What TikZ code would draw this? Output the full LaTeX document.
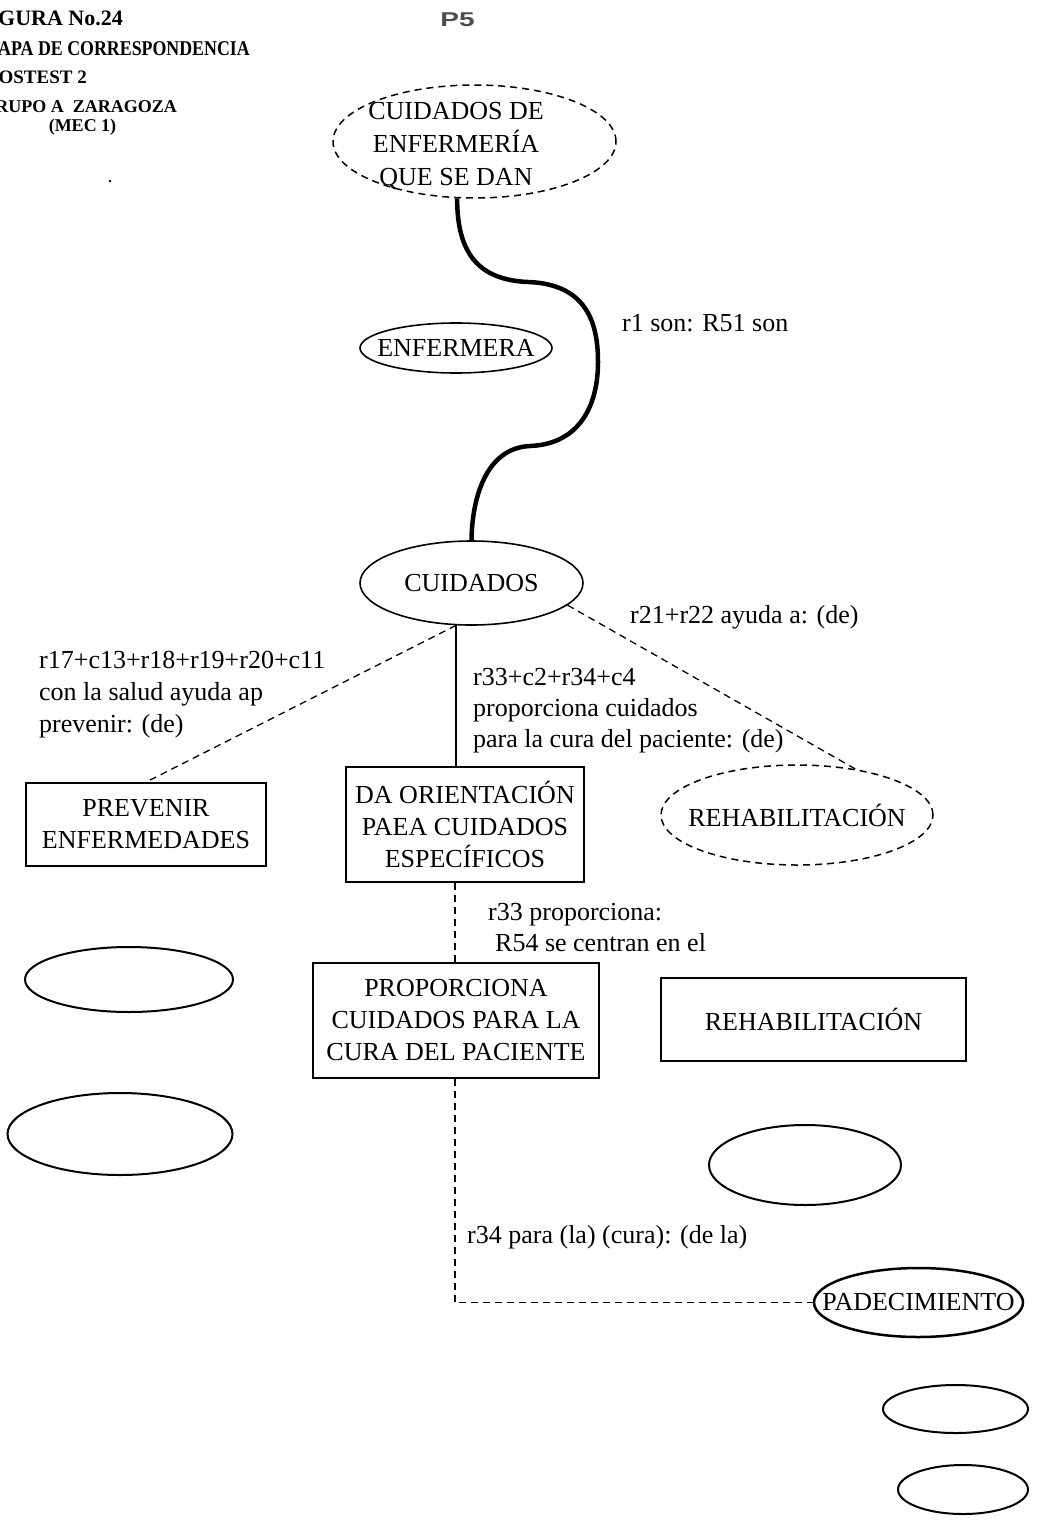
\documentclass[tikz,border=0pt]{standalone}
\usepackage{fontspec}
\usepackage{graphicx}
\setmainfont{Liberation Serif}
\newfontfamily\markfont{Liberation Sans}
\usetikzlibrary{shapes.geometric}

\tikzset{
  every node/.style={font=\fontsize{26}{32}\selectfont},
  conn/.style={line width=1.3pt},
  dashconn/.style={line width=1.3pt, dash pattern=on 7pt off 5pt},
  heavy/.style={line width=4.5pt},
  oval/.style={ellipse, draw, line width=1.6pt, inner sep=0pt},
  dashoval/.style={ellipse, draw, line width=1.5pt, dash pattern=on 7pt off 5pt, inner sep=0pt},
  inside/.style={label={[inner sep=0pt]center:#1}},
  box/.style={rectangle, draw, line width=1.8pt, inner sep=0pt, align=center},
  lbl/.style={inner sep=0pt, align=left, anchor=west},
  head/.style={inner sep=0pt, font=\bfseries\fontsize{#1}{#1}\selectfont},
}

\begin{document}
\begin{tikzpicture}[x=1pt,y=-1pt]
  \useasboundingbox (0,0) rectangle (1037,1526);
  \fill[white] (0,0) rectangle (1037,1526);
  \clip (0,0) rectangle (1037,1526);

  % heading block
  \node[head=22, anchor=base east] (h1) at (123,25) {FIGURA No.24};
  \node[head=21, anchor=base east] (h2) at (250,55) {\scalebox{0.85}[1]{MAPA DE CORRESPONDENCIA}};
  \node[head=19, anchor=base east] (h3) at (87,83) {POSTEST 2};
  \node[head=18, anchor=base east] (h4) at (177,112) {GRUPO A\ \ ZARAGOZA};
  \node[head=18, anchor=base] (h5) at (82.5,131) {(MEC 1)};
  \fill (110,181) circle (1.3);

  \node[inner sep=0pt, text=black!70, font=\markfont\bfseries\fontsize{20}{20}\selectfont]
    (pg) at (457.5,20) {\scalebox{1.4}[1]{P5}};

  % concepts
  \node[dashoval, minimum width=283, minimum height=113] (top) at (474.5,141.5) {};
  \node[inner sep=0pt, align=center, font=\fontsize{26}{33}\selectfont] (toptext) at (456,146)
    {CUIDADOS DE\\ENFERMERÍA\\QUE SE DAN};

  \node[oval, minimum width=192, minimum height=50, inside=ENFERMERA] (enf) at (456,348) {};
  \node[oval, minimum width=223, minimum height=84, inside=CUIDADOS] (cuid) at (471.5,583) {};

  \node[box, minimum width=240, minimum height=83] (prev) at (146,824.5)
    {PREVENIR\\ENFERMEDADES};
  \node[box, minimum width=238, minimum height=115] (da) at (465,824.5)
    {DA ORIENTACIÓN\\PAEA CUIDADOS\\ESPECÍFICOS};
  \node[dashoval, minimum width=272, minimum height=100, inside=REHABILITACIÓN] (rehab) at (797,815) {};

  \node[box, minimum width=286, minimum height=115] (prop) at (456,1020.5)
    {PROPORCIONA\\CUIDADOS PARA LA\\CURA DEL PACIENTE};
  \node[box, minimum width=305, minimum height=83] (rehabbox) at (813.5,1019.5)
    {REHABILITACIÓN};

  \node[oval, line width=2.5pt, minimum width=209, minimum height=69, inside=PADECIMIENTO]
    (pad) at (918.5,1302.5) {};

  % empty concepts
  \node[oval, line width=2pt, minimum width=208, minimum height=65] (e1) at (129,979.5) {};
  \node[oval, line width=2pt, minimum width=225, minimum height=82] (e2) at (120,1134) {};
  \node[oval, line width=2pt, minimum width=192, minimum height=80] (e3) at (805,1165) {};
  \node[oval, line width=2pt, minimum width=145, minimum height=48] (e4) at (955.5,1409) {};
  \node[oval, line width=2pt, minimum width=130, minimum height=49] (e5) at (963,1489.5) {};

  % connectors
  \draw[heavy] (top.-107) .. controls (457,255) and (480,280) .. (528,282)
    .. controls (588,284) and (598,325) .. (598,362)
    .. controls (598,405) and (580,444) .. (530,446)
    .. controls (485,448) and (472,500) .. (cuid.north);

  \draw[dashconn] (cuid.-110) -- (prev.north);
  \draw[conn] (cuid.-110) -- (cuid.-110 |- da.north);
  \draw[dashconn] (cuid.-13) -- (rehab.38);

  \coordinate (spine) at (455,1302.5);
  \draw[dashconn] (spine |- da.south) -- (spine |- prop.north);
  \draw[dashconn] (spine |- prop.south) -- (spine) -- (pad.west);

  % link labels
  \node[lbl] (l1) at (622,323) {r1 son: R51 son};
  \node[lbl] (l2) at (630,617) {r21+r22 ayuda a: (de)};
  \node[lbl] (l3) at (39,695) {r17+c13+r18+r19+r20+c11\\con la salud ayuda ap\\prevenir: (de)};
  \node[lbl, font=\fontsize{26}{31}\selectfont] (l4) at (473,711)
    {r33+c2+r34+c4\\proporciona cuidados\\para la cura del paciente: (de)};
  \node[lbl, font=\fontsize{26}{31}\selectfont] (l5) at (488,927.5)
    {r33 proporciona:\\\hspace*{7pt}R54 se centran en el};
  \node[lbl] (l6) at (467,1237) {r34 para (la) (cura): (de la)};
\end{tikzpicture}
\end{document}
